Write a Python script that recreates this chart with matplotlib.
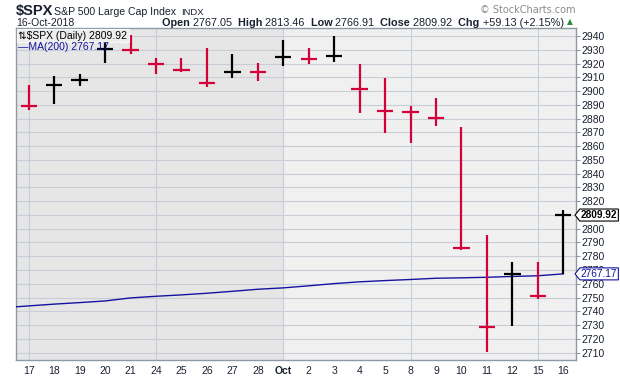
#!/usr/bin/env python3
# -*- coding: utf-8 -*-
"""
plot.py -- $SPX daily HLC bars with 200-day MA, StockCharts style
"""

import matplotlib
matplotlib.use("Agg")
import matplotlib.pyplot as plt
from matplotlib.path import Path
from matplotlib.transforms import blended_transform_factory

plt.rcParams["font.family"] = ["Liberation Sans", "DejaVu Sans"]

# ---------------------------------------------------------------------------
# data (17-Sep .. 16-Oct 2018)
# ---------------------------------------------------------------------------
DAY_LABELS = ["17", "18", "19", "20", "21", "24", "25", "26", "27", "28",
              "Oct", "2", "3", "4", "5", "8", "9", "10", "11", "12", "15", "16"]
HIGHS = [2904.65, 2911.17, 2912.36, 2934.80, 2940.91, 2923.79, 2923.95, 2931.15,
         2927.22, 2920.53, 2937.06, 2931.42, 2939.86, 2919.78, 2909.64, 2889.45,
         2894.83, 2874.02, 2795.14, 2775.77, 2775.99, 2813.46]
LOWS = [2886.16, 2890.43, 2903.82, 2920.62, 2927.11, 2912.63, 2913.70, 2903.28,
        2909.27, 2907.50, 2917.91, 2919.37, 2921.36, 2883.92, 2869.29, 2862.09,
        2874.27, 2784.86, 2710.51, 2729.44, 2749.03, 2766.91]
CLOSES = [2888.80, 2904.31, 2907.95, 2930.75, 2929.67, 2919.37, 2915.56, 2905.97,
          2914.00, 2913.98, 2924.59, 2923.43, 2925.51, 2901.61, 2885.57, 2884.43,
          2880.34, 2785.68, 2728.37, 2767.13, 2750.79, 2809.92]
LAST_OPEN = 2767.05
PREV_CLOSE = 2904.98   # 14-Sep close, sets colour of the first bar

# MA(200), first value is 14-Sep (just off the left edge)
MA200 = [2742.6, 2743.9, 2745.2, 2746.3, 2747.5, 2749.7, 2750.9, 2751.9, 2753.1,
         2754.5, 2756.0, 2757.0, 2758.5, 2760.1, 2761.4, 2762.3, 2763.1, 2764.0,
         2764.3, 2764.7, 2765.3, 2765.8, 2767.17]

WEEK_STARTS = ["17", "24", "Oct", "8", "15"]
Y_TICKS = list(range(2710, 2941, 10))

RED = "#d4003a"
UP = "#000000"
MA_BLUE = "#1414a0"
GRID = "#c9cdd8"
FRAME = "#8f99a6"
TXT = "#1a2030"


def tag_box(x0, y0, width, height, mutation_size):
    """price tag shape: box with a point on its left side"""
    pad = mutation_size * 0.1
    x0, y0 = x0 - pad, y0 - pad
    w, h = width + 2 * pad, height + 2 * pad
    tip = h * 0.4
    verts = [(x0 - tip, y0 + h / 2), (x0, y0), (x0 + w, y0), (x0 + w, y0 + h),
             (x0, y0 + h), (x0 - tip, y0 + h / 2)]
    return Path(verts, closed=True)


def main():
    fig = plt.figure(figsize=(6.2, 3.76), dpi=100)
    ax = fig.add_axes([16 / 620, 16 / 376, 560 / 620, 332 / 376])
    n = len(CLOSES)
    xs = list(range(n))

    # ---- background: september darker, october lighter ----
    ax.set_facecolor("#f0f0f0")
    ax.axvspan(-0.5, DAY_LABELS.index("Oct"), color="#e6e6e6", lw=0, zorder=0)

    for y in Y_TICKS:
        ax.axhline(y, color=GRID, lw=0.8, zorder=1)
    for lab in WEEK_STARTS:
        ax.axvline(DAY_LABELS.index(lab), color=GRID, lw=0.8, zorder=1)

    # ---- MA(200) ----
    ax.plot(list(range(-1, n)), MA200, color=MA_BLUE, lw=1.0, zorder=3)

    # ---- HLC bars, red when close is below the previous close ----
    prev = PREV_CLOSE
    for i in xs:
        col = UP if CLOSES[i] > prev else RED
        ax.vlines(i, LOWS[i], HIGHS[i], color=col, lw=1.6, zorder=4)
        ax.hlines(CLOSES[i], i - 0.32, i + 0.32, color=col, lw=1.6, zorder=4)
        prev = CLOSES[i]

    ax.set_xlim(-0.5, n - 0.5)
    ax.set_ylim(2704.6, 2945.8)

    for s in ax.spines.values():
        s.set_color(FRAME)
        s.set_linewidth(1.0)

    ax.yaxis.tick_right()
    ax.set_yticks(Y_TICKS)
    ax.set_yticklabels([str(v) for v in Y_TICKS])
    ax.tick_params(axis="y", length=3, width=0.8, color=FRAME, pad=1,
                   labelsize=7.5, labelcolor=TXT)
    ax.set_xticks(xs)
    ax.set_xticklabels(DAY_LABELS)
    ax.tick_params(axis="x", length=0, pad=4, labelsize=7.5, labelcolor=TXT)
    for t in ax.get_xticklabels():
        if t.get_text() == "Oct":
            t.set_fontweight("bold")

    # ---- price tags on the right axis (they cover the 2810/2770 labels) ----
    tr = blended_transform_factory(ax.transAxes, ax.transData)
    ax.annotate(f"{CLOSES[-1]:.2f}", xy=(1, CLOSES[-1]), xycoords=tr,
                xytext=(3.5, 0), textcoords="offset points", ha="left", va="center",
                fontsize=7.3, fontweight="bold", color="black", zorder=6,
                annotation_clip=False,
                bbox=dict(boxstyle=tag_box, fc="white", ec="black", lw=0.8))
    ax.annotate(f"{MA200[-1]:.2f}", xy=(1, MA200[-1]), xycoords=tr,
                xytext=(3.5, 0), textcoords="offset points", ha="left", va="center",
                fontsize=7.3, color=MA_BLUE, zorder=6, annotation_clip=False,
                bbox=dict(boxstyle=tag_box, fc="white", ec=MA_BLUE, lw=0.8))

    # ---- legend text in the top-left corner ----
    ax.text(0.004, 0.992, "\u21c5" + r"\$SPX (Daily) " + f"{CLOSES[-1]:.2f}",
            transform=ax.transAxes, ha="left", va="top", fontsize=7.5,
            color="black", zorder=6,
            bbox=dict(boxstyle="square,pad=0.15", fc="#ededed", ec="#f8f8f8", lw=0.8))
    ax.text(0.004, 0.958, "\u2014MA(200) " + f"{MA200[-1]:.2f}",
            transform=ax.transAxes, ha="left", va="top", fontsize=7.5,
            color=MA_BLUE, zorder=6)

    # ---- header ----
    fig.text(16 / 620, 1 - 15 / 376, r"\$SPX", fontsize=10.5, fontweight="bold",
             color=TXT, va="baseline")
    fig.text(54 / 620, 1 - 15 / 376, "S&P 500 Large Cap Index", fontsize=7.6,
             color=TXT, va="baseline")
    fig.text(181 / 620, 1 - 15 / 376, "INDX", fontsize=6.8, color=TXT,
             va="baseline")
    fig.text(16 / 620, 1 - 26 / 376, "16-Oct-2018", fontsize=7.5, color=TXT,
             va="baseline")
    fig.text(576 / 620, 1 - 13 / 376, "\u00a9 StockCharts.com", fontsize=7,
             color="#8a8a8a", ha="right", va="baseline", family=["DejaVu Sans"])

    # OHLC summary: bold labels, plain numbers, each piece chained after the last
    chg = CLOSES[-1] - CLOSES[-2]
    pieces = [("Open ", "bold"), (f"{LAST_OPEN:.2f}  ", "normal"),
              ("High ", "bold"), (f"{HIGHS[-1]:.2f}  ", "normal"),
              ("Low ", "bold"), (f"{LOWS[-1]:.2f}  ", "normal"),
              ("Close ", "bold"), (f"{CLOSES[-1]:.2f}  ", "normal"),
              ("Chg ", "bold"),
              (f"+{chg:.2f} (+{chg / CLOSES[-2] * 100:.2f}%) ", "normal")]
    last = fig.text(162 / 620, 1 - 26 / 376, pieces[0][0], fontsize=7.8,
                    fontweight=pieces[0][1], color=TXT, va="baseline")
    for txt, w in pieces[1:]:
        last = ax.annotate(txt, xy=(1, 0), xycoords=last, xytext=(0, 0),
                           textcoords="offset points", ha="left", va="bottom",
                           fontsize=7.8, fontweight=w, color=TXT,
                           annotation_clip=False)
    ax.annotate("\u25b2", xy=(1, 0), xycoords=last, xytext=(0, 1.5),
                textcoords="offset points", ha="left", va="bottom",
                fontsize=5.5, color="#2e8b3a", family=["DejaVu Sans"],
                annotation_clip=False)

    fig.savefig("out.png", dpi=100)


if __name__ == "__main__":
    main()
